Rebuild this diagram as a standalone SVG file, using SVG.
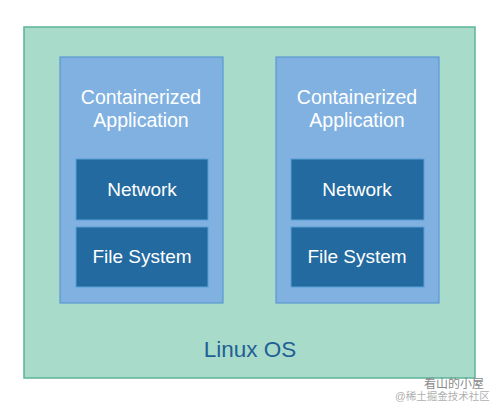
<svg xmlns="http://www.w3.org/2000/svg" width="500" height="408" viewBox="0 0 500 408">
<style>
.os{fill:#a9dbca;stroke:#5db49a;stroke-width:1.5}
.app{fill:#80b1e1;stroke:#5b98cf;stroke-width:1.2}
.box{fill:#236aa0;stroke:#5aa0d8;stroke-width:1}
.t{font-family:"Liberation Sans",Arial,sans-serif;fill:#ffffff;text-anchor:middle}
.wm{font-family:"Liberation Sans","Noto Sans CJK SC",sans-serif;fill:#b0b0b0}
</style>
<rect width="500" height="408" fill="#ffffff"/>
<g id="linux-os">
<rect class="os" x="24" y="27" width="451" height="351"/>
<text class="t" x="250" y="357" font-size="22.5" style="fill:#1f6095">Linux OS</text>
</g>
<g id="app1">
<rect class="app" x="60" y="57" width="163" height="246"/>
<text class="t" x="141" y="104" font-size="19.5">Containerized</text>
<text class="t" x="141" y="127" font-size="19.5">Application</text>
</g>
<g id="net1">
<rect class="box" x="76" y="159" width="132" height="61"/>
<text class="t" x="142" y="196" font-size="19">Network</text>
</g>
<g id="fs1">
<rect class="box" x="76" y="227" width="132" height="60"/>
<text class="t" x="142" y="263" font-size="19">File System</text>
</g>
<g id="app2">
<rect class="app" x="276" y="57" width="163" height="246"/>
<text class="t" x="357" y="104" font-size="19.5">Containerized</text>
<text class="t" x="357" y="127" font-size="19.5">Application</text>
</g>
<g id="net2">
<rect class="box" x="291" y="159" width="133" height="61"/>
<text class="t" x="357" y="196" font-size="19">Network</text>
</g>
<g id="fs2">
<rect class="box" x="291" y="227" width="133" height="60"/>
<text class="t" x="357" y="263" font-size="19">File System</text>
</g>
<g id="connectors"></g>
<g id="watermark">
<text class="wm" x="395" y="400" font-size="10.5">@稀土掘金技术社区</text>
<text class="wm" x="424" y="388" font-size="12" style="fill:#8a8a8a">看山的小屋</text>
</g>
</svg>
